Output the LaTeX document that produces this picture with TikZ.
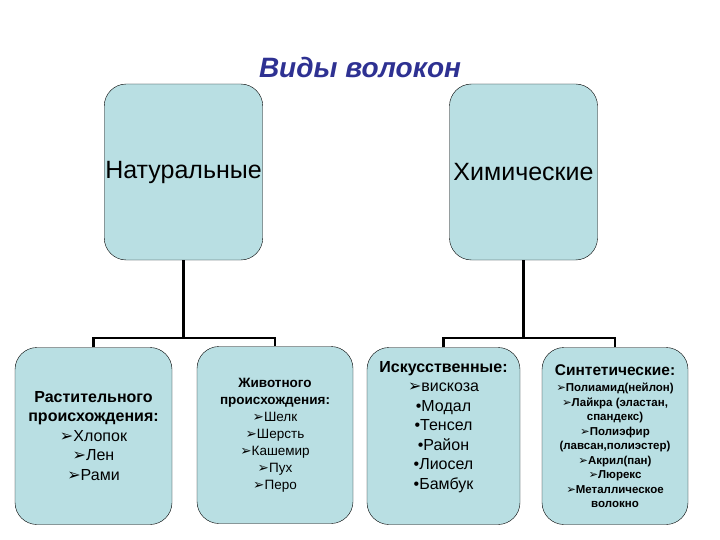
\documentclass[tikz,border=0pt]{standalone}
\usepackage{fontspec}
\setmainfont{Liberation Sans}
\newfontfamily\symfont{DejaVu Sans}
\definecolor{boxblue}{RGB}{185,223,227}
\definecolor{titleblue}{RGB}{46,49,146}
\newcommand{\fibarrow}{{\symfont\bfseries ➢}}
\tikzset{
  fibrebox/.style={draw=black, fill=boxblue, rounded corners=22pt, align=center, inner sep=1pt},
  topbox/.style={fibrebox, minimum width=157pt, minimum height=176pt, font=\fontsize{25}{30}\selectfont},
  subbox/.style={fibrebox, minimum height=177pt},
  link/.style={line width=2.4pt}
}
\begin{document}
\begin{tikzpicture}[x=1pt, y=1pt]
    \useasboundingbox (0,0) rectangle (720,-540);
    \node[font=\fontsize{28}{33}\selectfont\bfseries\itshape, text=titleblue] (title) at (360,-67) {Виды волокон};
    % upper level
    \node[topbox] (nat) at (183.5,-172) {Натуральные};
    \node[topbox, minimum width=148pt] (chem) at (523.5,-172) {Химические};
    % lower level
    \node[subbox, minimum width=157pt, font=\fontsize{16}{19.5}\selectfont] (plant) at (93.5,-436)
        {\textbf{Растительного}\\ \textbf{происхождения:}\\ \fibarrow Хлопок\\ \fibarrow Лен\\ \fibarrow Рами};
    \node[subbox, minimum width=156pt, font=\fontsize{13.5}{17}\selectfont] (anim) at (275,-435)
        {\textbf{Животного}\\ \textbf{происхождения:}\\ \fibarrow Шелк\\ \fibarrow Шерсть\\ \fibarrow Кашемир\\ \fibarrow Пух\\ \fibarrow Перо};
    \node[subbox, minimum width=153pt] (art) at (443.5,-436) {};
    \node[align=center, font=\fontsize{16}{19.5}\selectfont] (arttext) at ([yshift=9pt]art.center)
        {\textbf{Искусственные:}\\ \fibarrow вискоза\\ •Модал\\ •Тенсел\\ •Район\\ •Лиосел\\ •Бамбук};
    \node[subbox, minimum width=146pt, font=\fontsize{11.5}{14.5}\selectfont\bfseries] (syn) at (615,-436)
        {{\fontsize{15.5}{19}\selectfont Синтетические:}\\[2pt]
         \fibarrow Полиамид(нейлон)\\ \fibarrow Лайкра (эластан,\\ спандекс)\\ \fibarrow Полиэфир\\
         (лавсан,полиэстер)\\ \fibarrow Акрил(пан)\\ \fibarrow Люрекс\\ \fibarrow Металлическое\\ волокно};
    % connectors
    \coordinate (natbar) at (183.5,-338);
    \coordinate (chembar) at (523.5,-338);
    \draw[link] (nat.south) -- (natbar);
    \draw[link] (plant.north) |- (natbar);
    \draw[link] (anim.north) |- (natbar);
    \draw[link] (chem.south) -- (chembar);
    \draw[link] (art.north) |- (chembar);
    \draw[link] (syn.north) |- (chembar);
\end{tikzpicture}
\end{document}
